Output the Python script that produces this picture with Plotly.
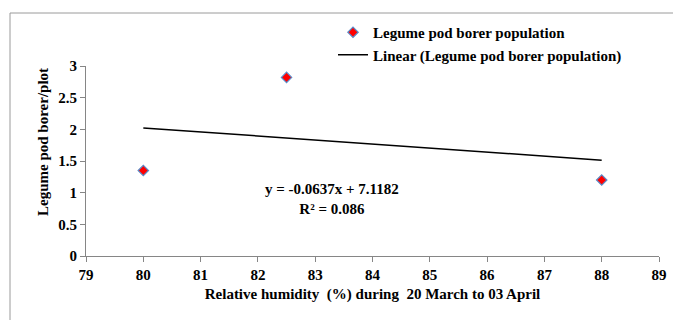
import plotly.graph_objects as go

humidity = [80, 82.5, 88]
population = [1.35, 2.82, 1.2]
slope = -0.0637
intercept = 7.1182
trend_x = [80, 88]
trend_y = [slope * x + intercept for x in trend_x]
x_ticks = list(range(79, 90))
y_ticks = [0, 0.5, 1, 1.5, 2, 2.5, 3]

FONT = "Liberation Serif"
AX = "#868686"
TICKFONT = dict(family=FONT, size=15, color="black")

fig = go.Figure()
fig.add_trace(go.Scatter(
    x=humidity, y=population, mode="markers",
    name="<b>Legume pod borer population</b>",
    marker=dict(symbol="diamond", size=8, color="#FF0000",
                line=dict(color="#5B8BC8", width=1.2)),
))
fig.add_trace(go.Scatter(
    x=trend_x, y=trend_y, mode="lines",
    name="<b>Linear (Legume pod borer population)</b>",
    line=dict(color="black", width=1.5),
))

fig.add_annotation(
    x=83.3, y=0.9, xref="x", yref="y",
    text="<b>y = -0.0637x + 7.1182</b><br><b>R² = 0.086</b>",
    showarrow=False, align="center",
    font=dict(family=FONT, size=15, color="black"),
)

fig.add_annotation(
    x=-43 / 573, y=0.6, xref="paper", yref="paper",
    text="<b>Legume pod borer/plot</b>", textangle=-90,
    showarrow=False, xanchor="center", yanchor="middle",
    font=dict(family=FONT, size=15, color="black"),
)

fig.add_shape(type="rect", xref="paper", yref="paper",
              x0=-76 / 573, x1=1.2, y0=-0.5, y1=1 + 53 / 190,
              line=dict(color="#9a9a9a", width=1),
              fillcolor="rgba(0,0,0,0)", layer="above")

fig.update_layout(
    width=673, height=320,
    margin=dict(l=86, r=14, t=66, b=64, autoexpand=False),
    paper_bgcolor="white", plot_bgcolor="white",
    font=dict(family=FONT, size=14, color="black"),
    showlegend=True,
    legend=dict(xref="container", yref="container",
                x=333 / 673, y=1 - 16 / 320, xanchor="left", yanchor="top",
                bgcolor="rgba(0,0,0,0)",
                font=dict(family=FONT, size=15),
                tracegroupgap=0),
    xaxis=dict(range=[79, 89], tickmode="array", tickvals=x_ticks,
               ticktext=[f"<b>{v}</b>" for v in x_ticks],
               showgrid=False, zeroline=False, showline=True,
               linecolor=AX, linewidth=1, ticks="outside", ticklen=5,
               tickcolor=AX, tickfont=TICKFONT,
               title=dict(text="<b>Relative humidity \u00a0(%) during \u00a020 March to 03 April</b>",
                          font=dict(family=FONT, size=15), standoff=6)),
    yaxis=dict(range=[0, 3], tickmode="array", tickvals=y_ticks,
               ticktext=[f"<b>{v:g}</b>" for v in y_ticks],
               showgrid=False, zeroline=False, showline=True,
               linecolor=AX, linewidth=1, ticks="outside", ticklen=5,
               tickcolor=AX, tickfont=TICKFONT),
)

fig.write_html("out.html", config={"displayModeBar": False},
               post_script="document.body.style.margin='0';")
